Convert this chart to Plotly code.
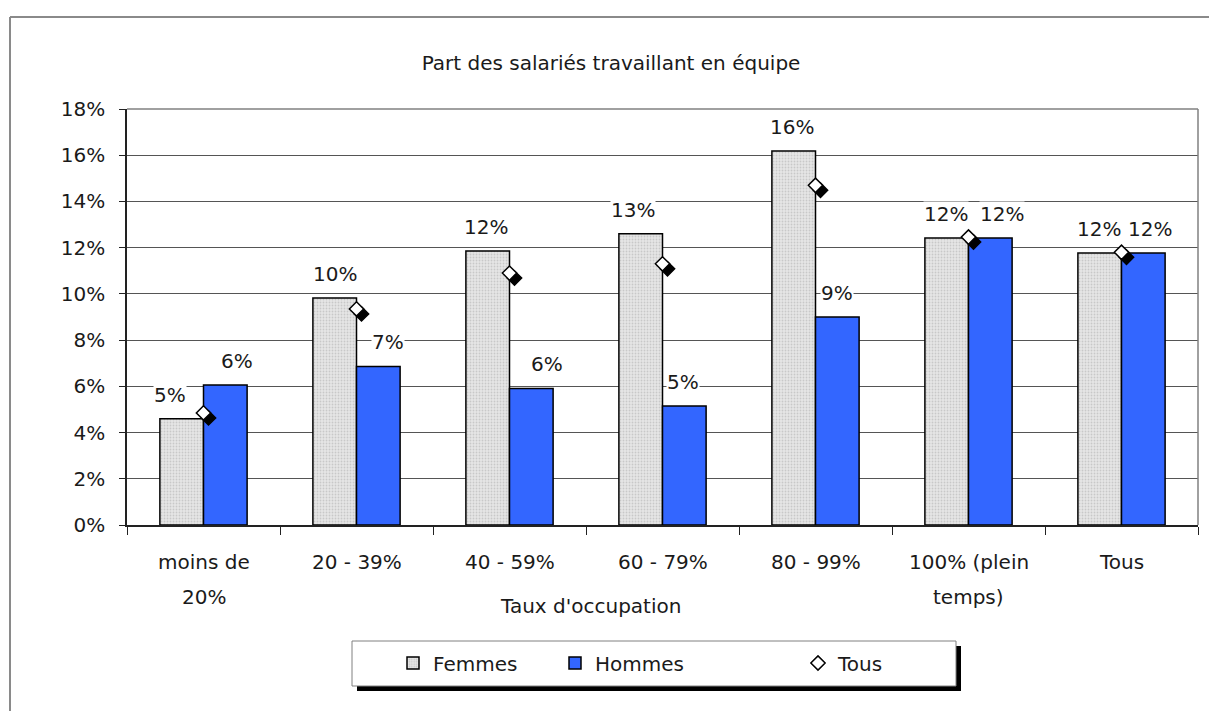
import plotly.graph_objects as go

# --- data -------------------------------------------------------------
categories = ["moins de\n20%", "20 - 39%", "40 - 59%", "60 - 79%",
              "80 - 99%", "100% (plein\ntemps)", "Tous"]
femmes = [4.6, 9.82, 11.86, 12.6, 16.18, 12.42, 11.77]
hommes = [6.06, 6.86, 5.91, 5.15, 9.0, 12.42, 11.77]
tous = [4.85, 9.35, 10.9, 11.3, 14.7, 12.46, 11.8]
y_ticks = [0, 2, 4, 6, 8, 10, 12, 14, 16, 18]

title_text = "Part des salariés travaillant en équipe"
x_title = "Taux d'occupation"

# --- geometry -----------------------------------------------------------
W, H = 1209, 711
L, R, T, B = 127, 1198, 109, 525          # plot area in pixels
PW, PH = R - L, B - T
YMAX = 18
n = len(categories)
xs = list(range(n))
BARGAP = 0.43
bar_w = (1 - BARGAP) / 2

# horizontal nudges (px) of the value labels, to keep them clear of marks
f_label_shift = [-12, 0, -2, -8, -2, -1, -1]
h_label_shift = [12, 10, 16, -1, 0, 12, 7]


def px(x):
    return (x - L) / PW


def py(y):
    return (B - y) / PH


FONT = "DejaVu Sans"
FS = 20
TXT = "#1a1a1a"
LEG_FONT = dict(family=FONT, size=FS, color=TXT)

fig = go.Figure()

fig.add_trace(go.Bar(
    x=xs, y=femmes, name="Femmes", offsetgroup="f", legend="legend",
    marker=dict(color="#e4e4e4", line=dict(color="black", width=1.5),
                pattern=dict(shape=".", bgcolor="#e6e6e6", fgcolor="#a9a9a9",
                             size=3, solidity=0.3)),
))
fig.add_trace(go.Bar(
    x=xs, y=hommes, name="Hommes", offsetgroup="h", legend="legend2",
    marker=dict(color="#3366ff", line=dict(color="black", width=1.5)),
))

# shadow behind the "Tous" diamonds
dx = 5 / (PW / n)
dy = 5 / (PH / YMAX)
fig.add_trace(go.Scatter(
    x=[x + dx for x in xs], y=[v - dy for v in tous], mode="markers",
    showlegend=False, hoverinfo="skip",
    marker=dict(symbol="diamond", size=11, color="black",
                line=dict(color="black", width=1.5)),
))
fig.add_trace(go.Scatter(
    x=xs, y=tous, mode="markers", name="Tous", legend="legend3",
    marker=dict(symbol="diamond", size=11, color="white",
                line=dict(color="black", width=1.5)),
))

annotations = []
# value labels above the bars
for i in xs:
    for val, off, sh in ((femmes[i], -bar_w / 2, f_label_shift[i]),
                         (hommes[i], bar_w / 2, h_label_shift[i])):
        annotations.append(dict(
            x=i + off, y=val, xref="x", yref="y", text=f"{val:.0f}%",
            showarrow=False, yanchor="bottom", yshift=11, xshift=sh,
            bgcolor="white", borderpad=0,
            font=dict(family=FONT, size=FS, color=TXT)))

# category labels (one annotation per line)
line_y = [562, 597]
for i, cat in enumerate(categories):
    for k, part in enumerate(cat.split("\n")):
        annotations.append(dict(
            x=i, y=py(line_y[k]), xref="x", yref="paper", text=part,
            showarrow=False, yanchor="middle",
            font=dict(family=FONT, size=FS, color=TXT)))

annotations.append(dict(
    x=px(590), y=py(606), xref="paper", yref="paper", text=x_title,
    showarrow=False, xanchor="center", yanchor="middle",
    font=dict(family=FONT, size=FS, color=TXT)))

shapes = [
    # outer chart frame
    dict(type="line", xref="paper", yref="paper", x0=px(10), x1=px(10),
         y0=py(17), y1=py(W), line=dict(color="#8a8a8a", width=2)),
    dict(type="line", xref="paper", yref="paper", x0=px(10), x1=px(W + 20),
         y0=py(17), y1=py(17), line=dict(color="#8a8a8a", width=2)),
    # plot area border (top / right)
    dict(type="line", xref="paper", yref="paper", x0=0, x1=1, y0=1, y1=1,
         line=dict(color="#808080", width=1.5)),
    dict(type="line", xref="paper", yref="paper", x0=1, x1=1, y0=0, y1=1,
         line=dict(color="#808080", width=1.5)),
    # legend box with drop shadow
    dict(type="rect", xref="paper", yref="paper", x0=px(357), x1=px(961),
         y0=py(691), y1=py(646), fillcolor="black", line=dict(width=0)),
    dict(type="rect", xref="paper", yref="paper", x0=px(352), x1=px(956),
         y0=py(686), y1=py(641), fillcolor="white",
         line=dict(color="#808080", width=1)),
]


def legend_at(sym_x):
    # a one-entry legend whose symbol is centred near sym_x (px)
    return dict(orientation="h", x=px(sym_x - 19), xanchor="left",
                y=py(663), yanchor="middle", bgcolor="rgba(0,0,0,0)",
                borderwidth=0, font=LEG_FONT)


fig.update_layout(
    width=W, height=H,
    margin=dict(l=L, r=W - R, t=T, b=H - B, autoexpand=False),
    paper_bgcolor="white", plot_bgcolor="white",
    barmode="group", bargap=BARGAP, bargroupgap=0,
    font=dict(family=FONT, size=FS, color=TXT),
    title=dict(text=title_text, x=611 / W, y=1 - 63 / H, xref="container",
               yref="container", xanchor="center", yanchor="middle",
               font=dict(family=FONT, size=FS, color=TXT)),
    xaxis=dict(range=[-0.5, n - 0.5], showgrid=False, zeroline=False,
               showline=True, linecolor="#222", linewidth=2,
               tickvals=xs, showticklabels=False, ticks="",
               minor=dict(tick0=-0.5, dtick=1, ticks="outside", ticklen=8,
                          tickcolor="#222", tickwidth=1, showgrid=False)),
    yaxis=dict(range=[0, YMAX], tickvals=y_ticks,
               ticktext=[f"{v}%" for v in y_ticks],
               showgrid=True, gridcolor="#555", gridwidth=1, zeroline=False,
               showline=True, linecolor="#222", linewidth=1.5,
               ticks="outside", ticklen=6, tickcolor="#222",
               ticklabelstandoff=10,
               tickfont=dict(family=FONT, size=FS, color=TXT)),
    legend=legend_at(412),
    legend2=legend_at(574),
    legend3=legend_at(817),
    annotations=annotations,
    shapes=shapes,
)

fig.write_html("out.html")
